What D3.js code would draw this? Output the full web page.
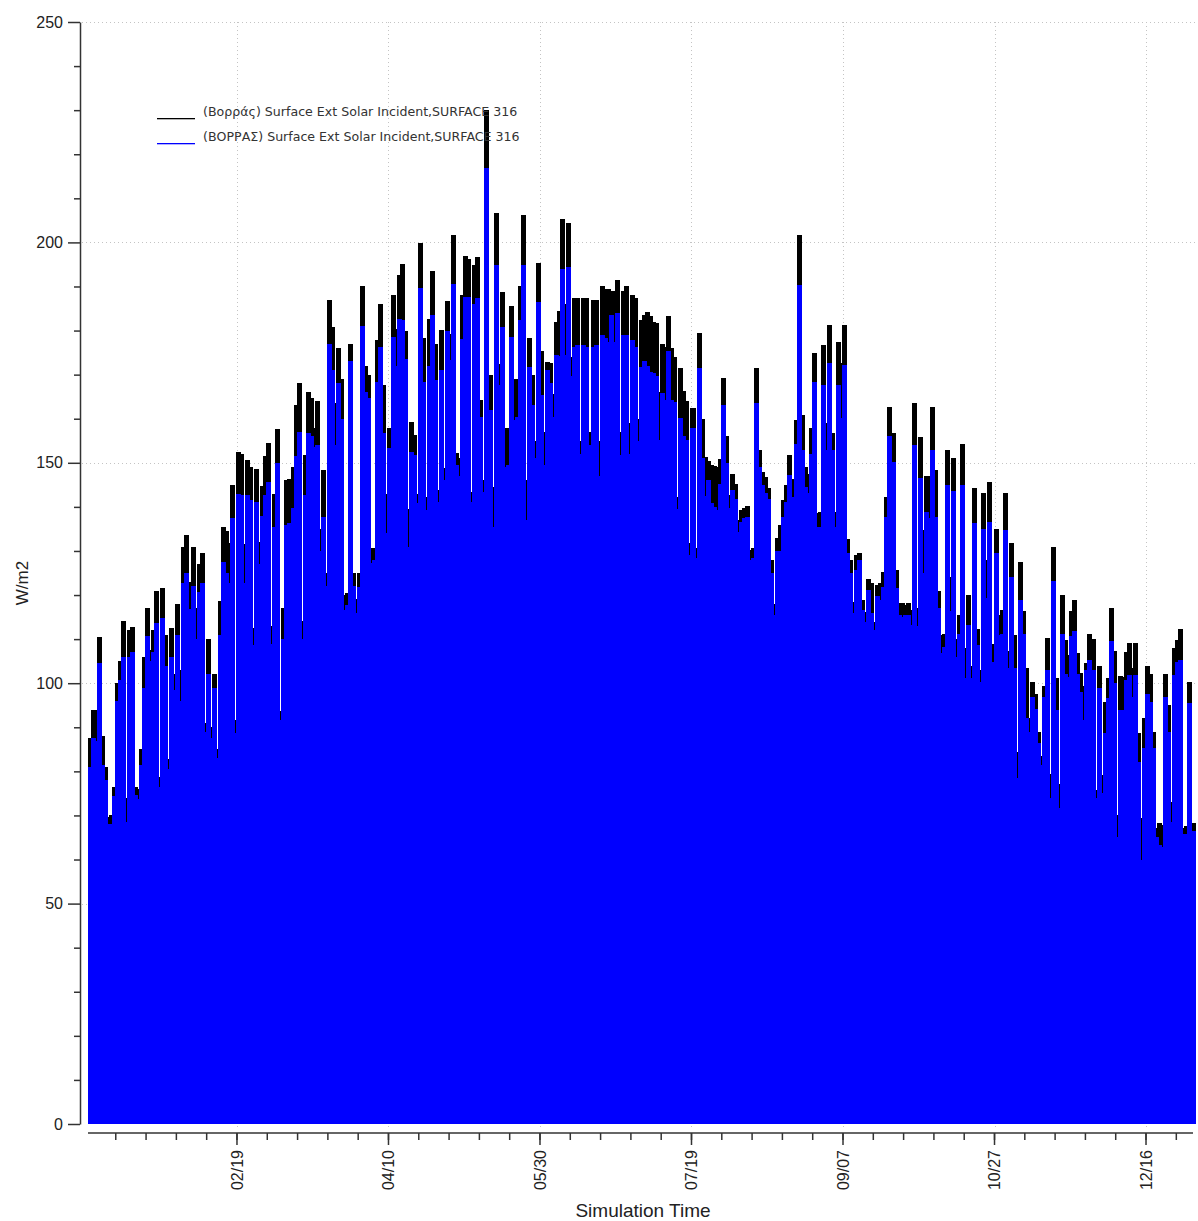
<!DOCTYPE html>
<html>
<head>
<meta charset="utf-8">
<script src="https://cdn.jsdelivr.net/npm/d3@7"></script>
<style>
  body { margin: 0; background: #fff; }
  svg { display: block; }
</style>
</head>
<body>
<svg id="chart" width="1198" height="1221"></svg>
<script>
// daily peak values (W/m2), Jan 1 .. Dec 31
let blackPeaks = [
  87.6, 94, 94, 110.5, 88, 81, 69.7, 70, 76.5, 100,
  105, 114, 74, 112, 112.7, 76.5, 76, 85, 106, 117,
  107.5, 112, 121, 78.7, 121.6, 111, 82.8, 112.5, 102, 118,
  103, 131, 133.6, 123, 131, 117, 127, 129.5, 91, 110,
  90, 102, 85, 118.6, 135.5, 134.5, 131.8, 145, 91.6, 152.5,
  152, 131.6, 150.6, 149, 112.5, 148.6, 132, 144.7, 151.5, 154.5,
  113, 143, 157.6, 93.7, 117, 146, 146.3, 149, 163, 168,
  114, 151.8, 166, 164.7, 158, 164, 135, 148.4, 125, 187,
  180.8, 163.5, 176, 169, 120, 120.5, 177, 125, 119, 125,
  190, 172, 170, 130.6, 130.6, 177.8, 186, 167.7, 143, 157.8,
  188, 180.4, 192.5, 195.2, 180, 139.6, 159.3, 156.3, 143, 199.8,
  178.2, 142.3, 182.7, 193.5, 177, 143.8, 180.2, 148.8, 186.6, 179.3,
  201.7, 152.3, 151, 188, 197, 196.3, 143.4, 194.8, 196.7, 164.3,
  146.1, 230, 170, 144.6, 206.6, 172.5, 188.7, 157.8, 157.8, 185.6,
  169, 169, 190.2, 206.2, 146.1, 178.2, 170, 155, 195.3, 175.4,
  157, 172.9, 172.7, 165.7, 182, 184.5, 205.4, 186, 204.3, 174,
  187.5, 187.5, 155, 187.5, 187.5, 157, 187, 187, 155, 190,
  189.5, 189.5, 189, 189, 191.5, 157, 189, 190, 159, 188,
  187.5, 160, 182.5, 183.5, 184.3, 183.2, 182, 181.8, 166, 177,
  176.3, 183.4, 176, 174.1, 142.3, 171.5, 166.4, 164, 131.8, 162.4,
  130.6, 179.4, 160, 151.3, 150.5, 149.5, 149.3, 149.1, 150.8, 169.2,
  156, 142.7, 147.5, 145.3, 137, 139.3, 139.7, 140.2, 130.2, 130.6,
  171.5, 152.9, 148, 146.8, 144.2, 127.9, 118, 133, 136, 141.5,
  144.9, 151.7, 146.4, 159.7, 201.7, 160.8, 149.1, 147.5, 157.8, 175,
  138.5, 138.9, 176.7, 159, 181.3, 156.7, 138.9, 177.5, 172.7, 181.3,
  132.6, 127.9, 118.5, 129.1, 129.5, 118.9, 116.2, 123.6, 122.7, 113.9,
  122.3, 122.7, 125.3, 142.3, 162.7, 156.7, 125.7, 118.1, 118.1, 117.8,
  118.1, 116.6, 163.5, 117, 155.8, 134.8, 146.9, 146.9, 162.6, 148.4,
  121, 111, 111.2, 152.8, 124.2, 151, 110, 115.4, 154.3, 107.9,
  120.1, 104, 144.2, 112.2, 102.9, 143.1, 127.9, 145.7, 109, 134.9,
  115.4, 116.6, 143.2, 107.2, 131.9, 110.9, 84.5, 127.6, 116.3, 103.5,
  92, 100.3, 97.5, 89, 83.4, 99.3, 110.3, 79.5, 131, 101.2,
  77.1, 120.1, 109.8, 106.4, 116.3, 118.9, 106.8, 102.4, 99.3, 104.6,
  111.2, 110, 75.8, 104, 79.1, 95.8, 101.1, 117.1, 107.2, 70.1,
  101.6, 101.3, 107, 109.1, 103.4, 109.1, 88.6, 69.4, 92, 104,
  102.1, 89, 67.2, 68.3, 67.9, 102.1, 95, 73.1, 107.9, 109.8,
  112.2, 67.2, 67.5, 100.3, 68.3
];

let bluePeaks = [
  81, 87.6, 87, 104.5, 81.5, 78, 68, 68, 74.4, 96,
  100.7, 106, 68.5, 106, 107, 74.6, 73.7, 81.5, 99, 110.7,
  105, 107, 113.7, 76.5, 114.8, 104, 80.5, 106, 98.5, 111,
  96, 122.8, 125, 116.8, 122, 110, 120.7, 122.8, 89, 102,
  87.6, 99, 83, 111, 127.5, 125, 122.7, 137.5, 88.7, 143,
  142.7, 122.7, 142.7, 141.6, 108.7, 141, 127, 138, 142.7, 145.6,
  109, 135.5, 150, 91.6, 110, 136, 136.3, 139.7, 151.5, 157,
  110, 142.7, 156.7, 156, 153.6, 154, 130, 137.7, 122, 177,
  171, 154, 168, 160, 116.6, 117.7, 173, 122, 116, 121.8,
  181, 166, 164.6, 127.2, 128, 168.4, 176.3, 156.7, 134, 153.3,
  178.6, 172, 182.7, 182.4, 173.6, 131, 152.5, 151.8, 140.8, 189.6,
  168.4, 139.3, 172, 183.5, 168.8, 141.1, 171, 146.1, 180, 173.3,
  190.6, 149.5, 146.9, 178, 187.6, 187.6, 141.1, 186.1, 187.3, 160.5,
  143.4, 216.8, 162, 135.5, 194.9, 167.6, 180.8, 149.1, 149.5, 178.6,
  159.7, 160.5, 182.4, 194.9, 137, 171.8, 163, 151, 186.5, 165.3,
  149.5, 171, 168, 160.5, 174.5, 174.2, 193.9, 174.5, 194.5, 169.6,
  176.3, 176.7, 152, 176.7, 176.3, 154, 176.3, 176.7, 147, 179,
  178.2, 177.4, 183.5, 177.4, 184, 151.8, 179, 179, 152, 177.8,
  176.3, 155, 171.8, 173, 172, 170.7, 170.4, 169.6, 155.2, 165.8,
  164.3, 175.3, 164.3, 163.9, 139.6, 160.1, 156, 155.2, 129.1, 157.8,
  128.4, 171.5, 151, 142.4, 146.1, 140.8, 140, 139.3, 145.3, 163.2,
  150, 139.7, 143.9, 141.9, 134.4, 136.6, 137.4, 137.8, 127.9, 128.4,
  163.6, 149, 144.9, 143.1, 141.9, 124.9, 115.5, 130, 130, 137.8,
  141.1, 147.2, 142.3, 154.3, 190.3, 152.9, 144.6, 143.1, 152.1, 168.4,
  135.5, 135.5, 167.6, 152.9, 172.6, 152.9, 135.5, 167.6, 160.1, 172.3,
  129.5, 124.9, 115.9, 125.7, 127.9, 116.6, 113.9, 121.2, 115.9, 112,
  119.7, 118.9, 121.9, 137.8, 156, 150.2, 121.5, 115.5, 115.1, 115.5,
  115.5, 113.2, 154, 113, 146.5, 125, 138.9, 137.4, 153, 137.7,
  117, 106.8, 108.3, 145, 116.3, 143.5, 106, 111.2, 145, 101.1,
  113.2, 101.1, 136.3, 108.7, 100.3, 134.9, 119.3, 136.6, 104.9, 129.5,
  110.9, 111.2, 134.8, 103.4, 124.2, 103.4, 78.4, 118.9, 111.2, 92,
  89, 96.9, 94.2, 86.4, 81.5, 96.9, 102.9, 73.9, 123.1, 93.9,
  71.6, 111.2, 102.1, 101.4, 110.6, 111.8, 102.1, 98.1, 91.6, 102.9,
  105.2, 103, 73.9, 98.8, 75, 88.6, 96.6, 109.5, 100, 65.2,
  93.9, 93.9, 100.8, 101.9, 96.9, 101.9, 82.2, 60, 85.2, 97.6,
  95.8, 85.2, 65.2, 63.3, 62.9, 96.9, 89, 68.6, 101.9, 104.9,
  105.2, 65.7, 65.7, 95.4, 66.4
];

let xTickLabels = ["02/19", "04/10", "05/30", "07/19", "09/07", "10/27", "12/16"];
let yTicks = [0, 50, 100, 150, 200, 250];
let seriesNames = [
  "(Βορράς) Surface Ext Solar Incident,SURFACE 316",
  "(ΒΟΡΡΑΣ) Surface Ext Solar Incident,SURFACE 316"
];
let seriesColors = ["#000000", "#0000ff"];

let svg = d3.select("#chart");
let year0 = new Date(Date.UTC(2019, 0, 1));
let year1 = new Date(Date.UTC(2020, 0, 1));
let parseTick = d3.utcParse("%Y/%m/%d");

let x = d3.scaleUtc().domain([year0, year1]).range([88.5, 1194.5]);
let y = d3.scaleLinear().domain([0, 250]).range([1124, 22]);

let majorDates = xTickLabels.map(function(t) { return parseTick("2019/" + t); });
let minorDates = d3.utcDay.range(d3.utcDay.offset(year0, 9), year1, 10);

// grid
let grid = svg.append("g").attr("stroke", "#c4c4c4").attr("stroke-width", 1)
  .attr("stroke-dasharray", "1,3");
grid.selectAll("line.h").data(yTicks.filter(function(d) { return d > 0; }))
  .enter().append("line")
  .attr("x1", 82).attr("x2", 1198)
  .attr("y1", function(d) { return Math.round(y(d)) + 0.5; })
  .attr("y2", function(d) { return Math.round(y(d)) + 0.5; });
grid.selectAll("line.v").data(majorDates)
  .enter().append("line")
  .attr("x1", function(d) { return Math.round(x(d)) + 0.5; })
  .attr("x2", function(d) { return Math.round(x(d)) + 0.5; })
  .attr("y1", 22).attr("y2", 1130);

// daily columns
let days = d3.range(blackPeaks.length).map(function(i) {
  return {
    start: d3.utcDay.offset(year0, i),
    end: d3.utcDay.offset(year0, i + 1),
    black: blackPeaks[i],
    blue: bluePeaks[i]
  };
});

let ext = 1;
[["black", seriesColors[0]], ["blue", seriesColors[1]]].forEach(function(s) {
  svg.append("g")
    .attr("fill", s[1])
    .attr("shape-rendering", "crispEdges")
    .selectAll("rect")
    .data(days)
    .enter()
    .append("rect")
    .attr("x", function(d) { return x(d.start) - ext; })
    .attr("width", function(d) { return x(d.end) - x(d.start) + 2 * ext; })
    .attr("y", function(d) { return y(d[s[0]]); })
    .attr("height", function(d) { return y(0) - y(d[s[0]]); });
});

// y axis
let yAxisG = svg.append("g").attr("transform", "translate(80,0)");
yAxisG.call(d3.axisLeft(y).tickValues(d3.range(0, 251, 10)).tickSize(6).tickSizeOuter(0).tickFormat(""));
yAxisG.call(function(g) {
  g.selectAll(".tick").filter(function(d) { return d % 50 === 0; })
    .select("line").attr("x2", -12);
  g.selectAll(".tick").filter(function(d) { return d % 50 === 0; })
    .select("text")
    .text(function(d) { return d; })
    .attr("x", -17);
});
yAxisG.selectAll("path, line").attr("stroke", "#333").attr("stroke-width", 1.5);
yAxisG.selectAll("text")
  .attr("font-family", "Liberation Sans, Arial, sans-serif")
  .attr("font-size", 16)
  .attr("fill", "#222");

// x axis
let xAxisG = svg.append("g").attr("transform", "translate(0,1133)");
xAxisG.append("line")
  .attr("x1", 88).attr("x2", 1193)
  .attr("stroke", "#333").attr("stroke-width", 1.5);
xAxisG.selectAll("line.minor").data(minorDates).enter().append("line")
  .attr("x1", function(d) { return x(d); })
  .attr("x2", function(d) { return x(d); })
  .attr("y1", 0).attr("y2", 7)
  .attr("stroke", "#333").attr("stroke-width", 1.5);
xAxisG.selectAll("line.major").data(majorDates).enter().append("line")
  .attr("x1", function(d) { return x(d); })
  .attr("x2", function(d) { return x(d); })
  .attr("y1", 0).attr("y2", 12)
  .attr("stroke", "#333").attr("stroke-width", 1.5);
xAxisG.selectAll("text").data(majorDates).enter().append("text")
  .attr("transform", function(d) { return "translate(" + x(d) + ",17) rotate(-90)"; })
  .attr("text-anchor", "end")
  .attr("dy", "0.35em")
  .attr("font-family", "Liberation Sans, Arial, sans-serif")
  .attr("font-size", 16)
  .attr("fill", "#222")
  .text(d3.utcFormat("%m/%d"));

// axis titles
svg.append("text")
  .attr("x", 643).attr("y", 1217)
  .attr("text-anchor", "middle")
  .attr("font-family", "Liberation Sans, Arial, sans-serif")
  .attr("font-size", 19)
  .attr("fill", "#222")
  .text("Simulation Time");

svg.append("text")
  .attr("transform", "translate(28,583) rotate(-90)")
  .attr("text-anchor", "middle")
  .attr("font-family", "Liberation Sans, Arial, sans-serif")
  .attr("font-size", 17)
  .attr("fill", "#222")
  .text("W/m2");

// legend
let legend = svg.append("g");
seriesNames.forEach(function(name, i) {
  legend.append("rect")
    .attr("x", 157).attr("width", 38)
    .attr("y", 118 + i * 25).attr("height", 1.3)
    .attr("fill", seriesColors[i]);
  legend.append("text")
    .attr("x", 203).attr("y", 116 + i * 25)
    .attr("font-family", "DejaVu Sans, sans-serif")
    .attr("font-size", 12.6)
    .attr("fill", "#333")
    .text(name);
});
</script>
</body>
</html>
